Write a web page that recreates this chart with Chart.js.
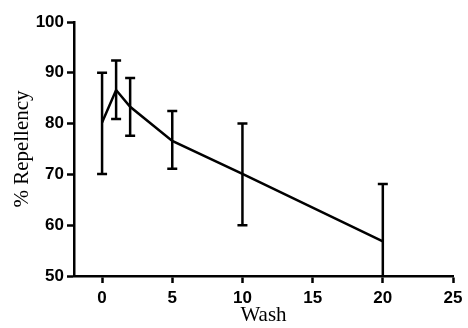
<!DOCTYPE html>
<html>
<head>
<meta charset="utf-8">
<script src="https://cdn.jsdelivr.net/npm/chart.js@4/dist/chart.umd.min.js"></script>
<style>
  html, body { margin: 0; padding: 0; background: #fff; }
  #wrap { width: 468px; height: 328px; }
</style>
</head>
<body>
<div id="wrap"><canvas id="chart" width="468" height="328"></canvas></div>
<script>
const washes = [0, 1, 2, 5, 10, 20];
const repellency = [80.2, 86.6, 83.3, 76.6, 70.1, 56.8];
const errHigh = [90.0, 92.4, 89.0, 82.5, 80.0, 68.1];
const errLow = [70.1, 80.9, 77.6, 71.1, 60.0, 45.4];
const xTicks = [0, 5, 10, 15, 20, 25];
const yTicks = [50, 60, 70, 80, 90, 100];

// draw error bars with caps
const errorBars = {
    id: "errorBars",
    afterDatasetsDraw(chart) {
        const ctx = chart.ctx;
        const xs = chart.scales.x, ys = chart.scales.y;
        const area = chart.chartArea;
        ctx.save();
        ctx.beginPath();
        ctx.rect(area.left - 10, area.top - 10, area.right - area.left + 20, area.bottom - area.top + 10);
        ctx.clip();
        ctx.strokeStyle = "#000";
        ctx.lineWidth = 2.5;
        washes.forEach((w, i) => {
            const x = xs.getPixelForValue(w);
            const yh = ys.getPixelForValue(errHigh[i]);
            const yl = ys.getPixelForValue(errLow[i]);
            ctx.beginPath();
            ctx.moveTo(x, yh);
            ctx.lineTo(x, yl);
            ctx.moveTo(x - 5, yh);
            ctx.lineTo(x + 5, yh);
            ctx.moveTo(x - 5, yl);
            ctx.lineTo(x + 5, yl);
            ctx.stroke();
        });
        ctx.restore();
    }
};

const tickFont = { family: "Liberation Sans, Arial", size: 17, weight: "bold" };
const titleFont = { family: "Liberation Serif, Times New Roman", size: 21 };

new Chart(document.getElementById("chart"), {
    type: "line",
    data: {
        datasets: [{
            data: washes.map((w, i) => ({ x: w, y: repellency[i] })),
            borderColor: "#000",
            borderWidth: 2.5,
            pointRadius: 0,
            tension: 0,
            fill: false
        }]
    },
    options: {
        responsive: false,
        animation: false,
        layout: { padding: { top: 22, right: 15, left: 0, bottom: 0 } },
        plugins: { legend: { display: false }, tooltip: { enabled: false } },
        scales: {
            x: {
                type: "linear",
                min: -2,
                max: 25,
                afterBuildTicks: s => { s.ticks = xTicks.map(v => ({ value: v })); },
                afterFit: s => { s.height = 52; },
                grid: { drawOnChartArea: false, drawTicks: true, tickLength: 7, tickWidth: 2.5, tickColor: "#000" },
                border: { display: true, color: "#000", width: 2.5 },
                ticks: { color: "#000", font: tickFont, padding: 5, maxRotation: 0 },
                title: { display: true, text: "Wash", color: "#000", font: titleFont, padding: { top: 0, bottom: 0 } }
            },
            y: {
                min: 50,
                max: 100,
                afterBuildTicks: s => { s.ticks = yTicks.map(v => ({ value: v })); },
                afterFit: s => { s.width = 74; },
                grid: { drawOnChartArea: false, drawTicks: true, tickLength: 7, tickWidth: 2.5, tickColor: "#000" },
                border: { display: true, color: "#000", width: 2.5 },
                ticks: { color: "#000", font: tickFont, padding: 3 },
                title: { display: true, text: "% Repellency", color: "#000", font: titleFont, padding: { top: 10, bottom: 0 } }
            }
        }
    },
    plugins: [errorBars]
});
</script>
</body>
</html>
